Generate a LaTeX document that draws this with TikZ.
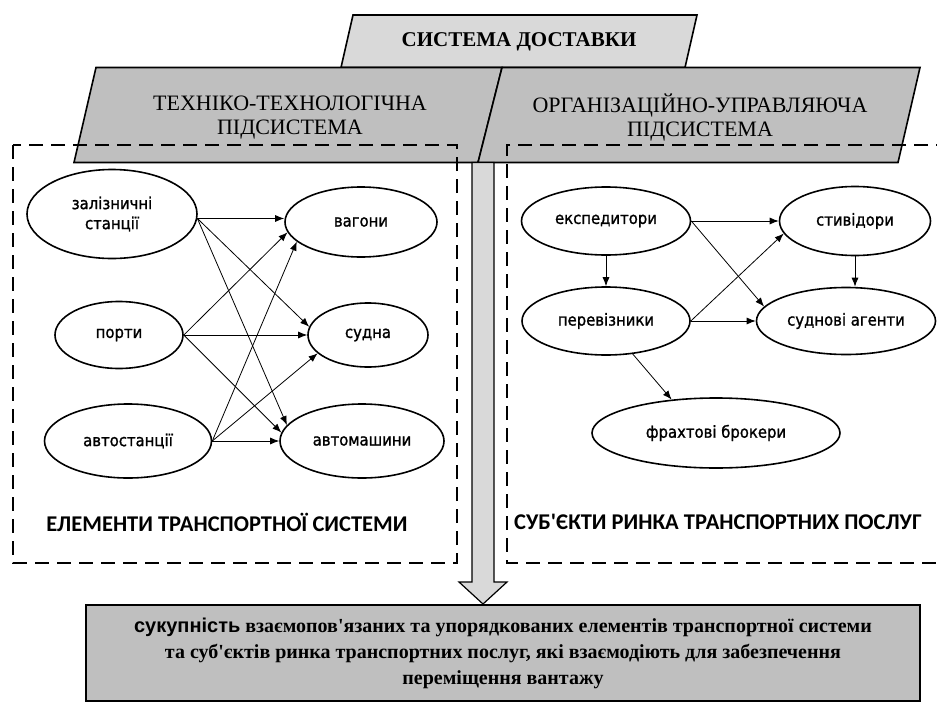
\documentclass[tikz,border=0pt]{standalone}
\usepackage{fontspec}
\setmainfont{Liberation Serif}[Ligatures=TeXOff]
\newfontfamily\ovalfont{DejaVu Sans}[FakeStretch=0.9, FakeBold=1.2]
\newfontfamily\labelfont{Carlito}[Ligatures=TeXOff]
\newfontfamily\keyfont{Liberation Sans}
\usetikzlibrary{arrows.meta}
\usetikzlibrary{shapes.geometric}

\definecolor{lightgray}{RGB}{217,217,217}
\definecolor{midgray}{RGB}{191,191,191}

\tikzset{
  oval/.style={ellipse, draw, line width=1.6pt, inner sep=0pt, align=center,
    font=\ovalfont\fontsize{16.5}{20}\selectfont},
  link/.style={-{Latex[length=9pt,width=7pt]}, line width=0.8pt},
  frame/.style={dash pattern=on 14pt off 8pt, line width=2.2pt},
  plate/.style={line width=1.6pt},
  subtitle/.style={align=center, font=\fontsize{22}{24}\selectfont},
  caption/.style={font=\labelfont\bfseries\fontsize{22.5}{26}\selectfont},
}

\begin{document}
\begin{tikzpicture}[x=1pt,y=-1pt]
\useasboundingbox (0,0) rectangle (937,704);

%Shape: Parallelogram [top]
\draw [plate, fill=lightgray] (353,15) -- (697,15) -- (685,67.5) -- (341,67.5) -- cycle ;
%Shape: Parallelogram [left]
\draw [plate, fill=midgray] (96,67.5) -- (502,67.5) -- (478,162.5) -- (74,162.5) -- cycle ;
%Shape: Parallelogram [right]
\draw [plate, fill=midgray] (502,67.5) -- (920,67.5) -- (898,162.5) -- (478,162.5) -- cycle ;

% Text Node
\node (title) [font=\fontsize{21}{25}\selectfont\bfseries] at (519,42) {СИСТЕМА ДОСТАВКИ};
% Text Node
\node (techsub) [subtitle] at (290,118) {ТЕХНІКО-ТЕХНОЛОГІЧНА\\ПІДСИСТЕМА};
% Text Node
\node (orgsub) [subtitle] at (700,118) {ОРГАНІЗАЦІЙНО-УПРАВЛЯЮЧА\\ПІДСИСТЕМА};

%Shape: Dashed frames
\draw [frame] (13,145) rectangle (457,563) ;
\draw [frame] (950,145) -- (507,145) -- (507,563) -- (950,563) ;

%Shape: Block arrow
\draw [line width=1.2pt, fill=lightgray] (472,162.5) -- (494,162.5) -- (494,582) -- (507,582) -- (483,604) -- (459,582) -- (472,582) -- cycle ;

%Shape: Result box
\node (result) [draw, line width=2.4pt, fill=midgray, minimum width=834, minimum height=96, align=center,
  font=\fontsize{20}{26}\selectfont\bfseries] at (503,653)
  {{\keyfont сукупність} взаємопов'язаних та упорядкованих елементів транспортної системи\\
   та суб'єктів ринка транспортних послуг, які взаємодіють для забезпечення\\
   переміщення вантажу};

% Elements of the transport system
\node (zal) [oval, minimum width=170, minimum height=89] at (112,214) {залізничні\\станції};
\node (port) [oval, minimum width=128, minimum height=67] at (119,335) {порти};
\node (avst) [oval, minimum width=167, minimum height=74] at (128,441) {автостанції};
\node (vag) [oval, minimum width=152, minimum height=70] at (361,222) {вагони};
\node (sud) [oval, minimum width=120, minimum height=64] at (368,335) {судна};
\node (avm) [oval, minimum width=164, minimum height=74] at (362,441) {автомашини};

\draw [link] (zal.-3) -- (zal.-3 -| vag.west) ;
\draw [link] (zal.-3) -- (sud.172) ;
\draw [link] (zal.-3) -- (avm.168) ;
\draw [link] (port.east) -- (vag.188) ;
\draw [link] (port.east) -- (sud.west) ;
\draw [link] (port.east) -- (avm.174) ;
\draw [link] (avst.east) -- (vag.197) ;
\draw [link] (avst.east) -- (sud.200) ;
\draw [link] (avst.east) -- (avm.west) ;

% Text Node
\node (elements) [caption] at (227,522) {ЕЛЕМЕНТИ ТРАНСПОРТНОЇ СИСТЕМИ};

% Market participants
\node (eksp) [oval, minimum width=169, minimum height=68] at (606,221) {експедитори};
\node (stv) [oval, minimum width=151, minimum height=69] at (855,221) {стивідори};
\node (perev) [oval, minimum width=168, minimum height=68] at (606,321) {перевізники};
\node (sagent) [oval, minimum width=179, minimum height=67] at (846,321) {суднові агенти};
\node (fraht) [oval, minimum width=248, minimum height=70] at (716,433) {фрахтові брокери};

\draw [link] (eksp.east) -- (stv.west) ;
\draw [link] (eksp.east) -- (sagent.170) ;
\draw [link] (eksp.south) -- (perev.north) ;
\draw [link] (perev.east) -- (stv.190) ;
\draw [link] (perev.east) -- (sagent.west) ;
\draw [link] (stv.south) -- (stv.south |- sagent.north) ;
\draw [link] (perev.-51) -- (fraht.143) ;

% Text Node
\node (subjects) [caption] at (718,522) {СУБ'ЄКТИ РИНКА ТРАНСПОРТНИХ ПОСЛУГ};

\end{tikzpicture}
\end{document}
